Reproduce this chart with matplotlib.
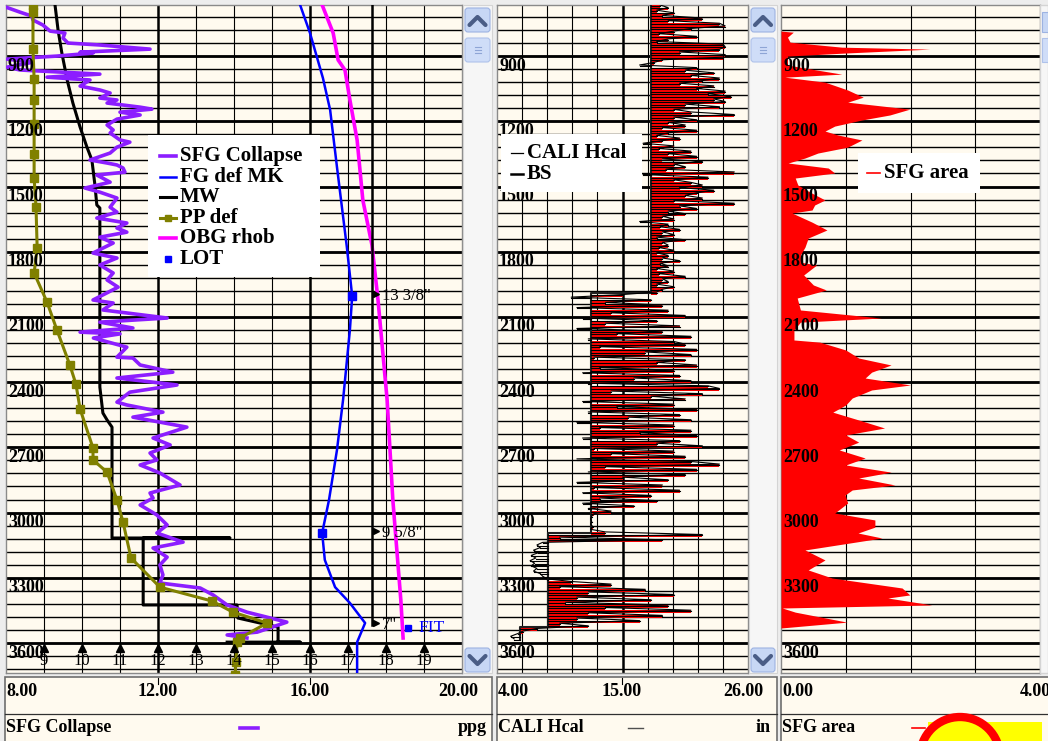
import numpy as np
import matplotlib.pyplot as plt
import matplotlib.transforms as mtransforms
from matplotlib.patches import Rectangle, Circle, FancyBboxPatch

W, H = 1048, 741
PLOT_TOP, PLOT_BOT = 5, 673          # pixel rows of the log tracks
DEPTH_TOP, DEPTH_BOT = 665, 3738     # metres shown in the window
CREAM = '#FFFAEF'
SERIF = 'Liberation Serif'
PURPLE = '#8C1EFF'
OLIVE = '#808000'

# ---------------- track 1 : pressure gradients (ppg) ----------------
sfg_depth = [675, 698, 716, 734, 757, 785, 794, 817, 840, 849, 868, 882, 886, 900, 914,
             928, 951, 964, 983, 997, 1010, 1038, 1056, 1070, 1093, 1102, 1116, 1135, 1144,
             1158, 1171, 1190, 1217, 1240, 1254, 1286, 1296, 1319, 1346, 1378, 1392, 1401,
             1415, 1434, 1447, 1480, 1507, 1526, 1553, 1595, 1618, 1645, 1668, 1691, 1710,
             1733, 1760, 1806, 1829, 1861, 1898, 1930, 1963, 2022, 2036, 2068, 2105, 2124,
             2151, 2170, 2178, 2197, 2239, 2285, 2289, 2321, 2354, 2381, 2413, 2446, 2492,
             2505, 2538, 2561, 2607, 2657, 2689, 2726, 2758, 2781, 2818, 2873, 2910, 2933,
             2965, 3011, 3057, 3094, 3136, 3163, 3205, 3241, 3287, 3324, 3347, 3379, 3425,
             3458, 3504, 3550, 3563, 3577]
sfg_ppg = [8.0, 8.37, 8.68, 8.71, 8.97, 9.16, 9.55, 9.5, 9.63, 10.47, 11.79, 9.95, 10.29,
           9.34, 8.03, 8.71, 8.03, 8.37, 10.47, 9.08, 10.21, 9.95, 10.47, 10.74, 10.47, 10.92,
           10.66, 11.53, 11.84, 11.0, 11.53, 10.92, 10.66, 10.82, 10.74, 11.0, 11.26, 10.92,
           10.74, 10.21, 10.66, 10.92, 11.08, 11.13, 10.39, 10.74, 10.08, 10.47, 10.92, 10.74,
           10.92, 10.39, 11.18, 10.92, 11.18, 10.47, 10.82, 10.29, 10.92, 10.47, 10.82, 10.66,
           10.95, 10.29, 10.82, 10.55, 12.24, 10.47, 11.34, 9.95, 11.0, 10.3, 11.18, 10.92,
           11.34, 11.53, 12.39, 10.92, 12.5, 11.26, 10.92, 11.18, 12.13, 11.34, 12.76, 11.87,
           12.32, 11.79, 11.97, 11.53, 12.05, 12.58, 11.79, 11.87, 11.53, 11.97, 12.24, 11.97,
           12.66, 11.87, 12.24, 12.05, 12.13, 12.05, 13.11, 13.45, 13.82, 14.34, 15.39, 14.61,
           13.82, 14.34]

mw_depth = [665, 780, 886, 1010, 1116, 1227, 1319, 1378, 1493, 1585, 1599, 2013, 2423,
            2542, 2574, 2607, 3117, 3117, 3117, 3425, 3425, 3485, 3527, 3596, 3596, 3596]
mw_ppg = [9.29, 9.37, 9.47, 9.61, 9.76, 9.95, 10.13, 10.26, 10.34, 10.39, 10.47, 10.47,
          10.47, 10.55, 10.66, 10.79, 10.79, 13.89, 11.61, 11.61, 14.08, 14.10, 15.16, 15.16,
          15.74, 13.82]

pp_depth = [665, 698, 868, 1006, 1102, 1213, 1351, 1461, 1595, 1783, 1898, 2032, 2160,
            2321, 2409, 2524, 2703, 2758, 2814, 2942, 3044, 3209, 3343, 3407, 3458, 3508,
            3577, 3596, 3688, 3747]
pp_ppg = [8.71, 8.71, 8.71, 8.74, 8.74, 8.74, 8.74, 8.74, 8.79, 8.82, 8.74, 9.08, 9.34,
          9.68, 9.84, 9.95, 10.29, 10.29, 10.66, 10.92, 11.08, 11.29, 12.05, 13.42, 13.97,
          14.87, 14.16, 14.08, 14.05, 14.03]

fg_depth = [665, 794, 1001, 1148, 1411, 1779, 2004, 2160, 2482, 2712, 2942, 3094, 3218,
            3343, 3416, 3508, 3596, 3747]
fg_ppg = [15.74, 16.0, 16.34, 16.53, 16.71, 16.97, 17.11, 17.05, 16.87, 16.71, 16.5, 16.32,
          16.39, 16.66, 17.05, 17.45, 17.24, 17.24]

obg_depth = [665, 794, 918, 964, 1102, 1286, 1562, 1769, 2022, 2482, 2942, 3402, 3577]
obg_ppg = [16.32, 16.61, 16.74, 16.92, 17.05, 17.24, 17.39, 17.63, 17.79, 18.03, 18.18,
           18.39, 18.45]

lot_depth = [2004, 3094]
lot_ppg = [17.11, 16.32]
fit_depth = [3531]
fit_ppg = [18.58]

casing_names = ['13 3/8"', '9 5/8"', '7"']
casing_shoe = [2004, 3094, 3517]
casing_ppg = 17.63

ppg_marks = list(range(9, 20))

# ---------------- track 2 : caliper (in) ----------------
cali_top, cali_step = 665, 12
cali_in = [
    18.3, 19.0, 18.0, 19.5, 18.5, 22.0, 19.0, 23.5, 24.0, 21.0,
    19.5, 18.2, 21.5, 19.0, 18.0, 23.8, 24.0, 23.5, 20.0, 24.0,
    23.8, 18.5, 17.8, 16.5, 21.5, 20.5, 23.0, 21.0, 23.5, 22.0,
    20.0, 23.0, 21.5, 24.0, 22.5, 24.5, 23.0, 24.0, 20.5, 23.5,
    19.5, 21.0, 24.8, 19.5, 21.5, 19.0, 20.5, 18.5, 21.5, 19.0,
    18.0, 20.0, 18.5, 16.8, 19.5, 18.2, 21.0, 19.0, 21.5, 18.5,
    22.0, 19.5, 20.5, 18.8, 24.8, 16.8, 22.5, 19.5, 21.0, 22.0,
    20.0, 23.0, 21.5, 20.5, 22.0, 19.5, 24.8, 20.0, 21.5, 19.0,
    20.5, 18.5, 19.5, 16.5, 19.0, 18.3, 20.0, 18.5, 19.5, 18.0,
    20.5, 18.5, 19.0, 18.2, 19.5, 18.0, 19.0, 18.5, 20.0, 18.3,
    19.0, 18.0, 19.5, 18.2, 20.5, 18.5, 19.0, 18.0, 19.5, 18.5, 18.0,
    15.0, 10.5, 17.5, 13.5, 18.5, 11.0, 19.0, 14.0, 20.5, 11.5,
    18.0, 13.5, 20.0, 11.0, 18.5, 14.5, 21.0, 12.0, 19.5, 20.5,
    13.0, 21.5, 17.0, 21.0, 12.5, 20.5, 18.0, 21.5, 13.0, 19.5,
    11.5, 20.0, 16.0, 21.0, 12.0, 22.5, 23.5, 14.0, 22.0, 17.5,
    20.5, 11.5, 19.5, 14.5, 21.5, 12.0, 20.0, 15.5, 21.0, 11.0,
    19.5, 13.0, 21.0, 16.5, 21.5, 11.5, 20.0, 18.0, 22.0, 12.5,
    19.5, 14.0, 20.5, 11.0, 21.0, 23.5, 13.5, 21.5, 12.0, 20.5,
    15.0, 19.0, 11.0, 18.5, 12.5, 20.0, 11.5, 17.5, 13.0, 18.0,
    11.5, 16.0, 12.0, 14.0, 12.5, 12.3, 12.2, 12.3, 12.2, 12.4, 12.2, 13.5,
    22.0, 9.5, 18.5, 8.0, 7.5, 7.8, 7.2, 7.6, 7.0, 7.4,
    6.9, 7.3, 7.0, 7.5, 7.2, 7.8, 8.0, 8.4, 10.5, 14.0,
    9.5, 17.0, 12.0, 19.5, 11.0, 17.5, 10.0, 19.0, 13.5, 21.0,
    12.0, 18.5, 11.0, 16.5, 9.5, 12.0, 7.5, 6.3, 5.8, 5.2, 5.5]
bit_tops = [665, 1990, 3094, 3525]
bit_sizes = [17.5, 12.25, 8.5, 6.0]
bit_base = 3581

# ---------------- track 3 : SFG area ----------------
area_depth = [665, 785, 790, 813, 836, 859, 868, 886, 900, 941, 964, 983, 997, 1020, 1056,
              1089, 1112, 1144, 1171, 1194, 1222, 1245, 1263, 1286, 1319, 1346, 1369, 1392,
              1415, 1438, 1461, 1493, 1526, 1562, 1585, 1608, 1622, 1664, 1700, 1737, 1779,
              1815, 1848, 1861, 1907, 1953, 1976, 2013, 2068, 2105, 2124, 2160, 2206, 2216,
              2252, 2289, 2321, 2354, 2381, 2413, 2436, 2473, 2505, 2538, 2574, 2611, 2643,
              2676, 2712, 2749, 2781, 2814, 2841, 2873, 2896, 2919, 2956, 3002, 3034, 3067,
              3094, 3117, 3172, 3218, 3264, 3301, 3347, 3379, 3393, 3425, 3439, 3458, 3504,
              3531, 3738]
area_val = [0, 0, 0.19, 0.10, 0.14, 0.94, 2.30, 0.99, 0.10, 0.10, 0.55, 0.94, 0.06, 0.68,
            1.03, 1.27, 1.03, 1.99, 1.68, 1.25, 0.83, 0.68, 0.88, 1.25, 1.03, 0.57, 0.37,
            0.11, 0.73, 0.83, 0.22, 0.26, 0.45, 0.68, 0.52, 0.48, 0.17, 0.48, 0.71, 0.42,
            0.37, 0.30, 0.30, 0.55, 0.35, 0.50, 0.70, 0.25, 0.30, 1.55, 0.30, 0.20, 0.20,
            0.60, 1.00, 1.20, 1.70, 1.40, 1.30, 2.00, 1.40, 1.10, 1.00, 0.80, 1.20, 1.60,
            1.00, 1.20, 0.90, 1.30, 1.00, 1.70, 1.20, 1.76, 1.10, 0.99, 1.03, 0.83, 1.45,
            1.45, 1.19, 1.56, 0.37, 0.68, 0.42, 0.79, 1.87, 1.99, 1.65, 2.33, 0.02, 0.22,
            1.02, 0.0, 0.0]

depth_major = list(range(600, 3900, 300))
depth_minor = list(range(660, 3740, 60))


fig = plt.figure(figsize=(W / 100, H / 100), dpi=100, facecolor='#EDEDED')
over = fig.add_axes([0, 0, 1, 1], zorder=10)
over.set_xlim(0, W)
over.set_ylim(H, 0)
over.axis('off')
over.patch.set_alpha(0)


def track(x0, x1, xlim, vminor, vmajor):
    ax = fig.add_axes([x0 / W, 1 - PLOT_BOT / H, (x1 - x0) / W, (PLOT_BOT - PLOT_TOP) / H],
                      zorder=1)
    ax.set_xlim(*xlim)
    ax.set_ylim(DEPTH_BOT, DEPTH_TOP)
    ax.set_facecolor(CREAM)
    ax.set_xticks([])
    ax.set_yticks([])
    for s in ax.spines.values():
        s.set_color('#8A8A8A')
        s.set_linewidth(1.0)
    for d in depth_minor:
        ax.axhline(d, color='black', lw=1.0, zorder=1)
    for d in depth_major:
        ax.axhline(d, color='black', lw=2.0, zorder=1)
    for v in vminor:
        ax.axvline(v, color='black', lw=0.8, zorder=1)
    for v in vmajor:
        ax.axvline(v, color='black', lw=1.8, zorder=1)
    tr = mtransforms.blended_transform_factory(ax.transAxes, ax.transData)
    for d in depth_major:
        ax.text(2.0 / (x1 - x0), d + 46, str(d), transform=tr, fontfamily=SERIF,
                fontweight='bold', fontsize=13, va='center', ha='left', zorder=8,
                clip_on=True)
    return ax


# track 1
ax1 = track(6, 462, (8, 20), [9, 10, 11, 13, 14, 15, 17, 18, 19], [12, 16])
ax1.plot(obg_ppg, obg_depth, color='#FF00FF', lw=2.6, zorder=3)
ax1.plot(fg_ppg, fg_depth, color='#0000FF', lw=1.8, zorder=3)
ax1.plot([casing_ppg, casing_ppg], [DEPTH_TOP, casing_shoe[-1]], color='black', lw=1.8, zorder=3)
for name, d in zip(casing_names, casing_shoe):
    ax1.plot([casing_ppg + 0.1], [d - 8], marker='>', ms=5, color='black', zorder=4)
    ax1.text(casing_ppg + 0.27, d, name, fontfamily=SERIF, fontsize=12, va='center',
             ha='left', zorder=4)
ax1.plot(lot_ppg, lot_depth, ls='none', marker='s', ms=5.5, color='#0000FF', zorder=5)
ax1.plot(fit_ppg, fit_depth, ls='none', marker='s', ms=5, color='#0000FF', zorder=5)
ax1.text(fit_ppg[0] + 0.27, fit_depth[0], 'FIT', color='#0000FF', fontfamily=SERIF,
         fontsize=12.5, va='center', ha='left', zorder=5)
ax1.plot(mw_ppg, mw_depth, color='black', lw=2.2, zorder=4)
ax1.plot(sfg_ppg, sfg_depth, color=PURPLE, lw=2.6, zorder=5)
ax1.plot(pp_ppg, pp_depth, color=OLIVE, lw=2.2, marker='s', ms=5.5, zorder=6)
ax1.plot(ppg_marks, [3621] * len(ppg_marks), ls='none', marker='^', ms=6, color='black',
         zorder=6)
for v in ppg_marks:
    ax1.text(v, 3684, str(v), fontfamily=SERIF, fontsize=12, ha='center', va='center',
             zorder=6)

# track 2
ax2 = track(497, 748, (4, 26), [4 + 2.2 * k for k in (1, 2, 3, 4, 6, 7, 8, 9)], [15])
cali = np.array(cali_in)
cali_depth = cali_top + cali_step * np.arange(len(cali))
bit_at = np.array(bit_sizes)[np.searchsorted(bit_tops, cali_depth, side='right') - 1]
ax2.fill_betweenx(cali_depth, bit_at, np.maximum(cali, bit_at), step='post',
                  color='#FF0000', lw=0, zorder=3)
bs_depth = [d for t in bit_tops[1:] for d in (t, t)]
bs_depth = [bit_tops[0]] + bs_depth + [bit_base]
bs_size = [s for s in bit_sizes for _ in (0, 1)]
ax2.plot(bs_size, bs_depth, color='#202020', lw=1.5, zorder=4)
# each caliper reading as a horizontal excursion from the bit size
for d, c, b in zip(cali_depth, cali, bit_at):
    ax2.plot([b, c], [d + 3, d + 3], color='black', lw=0.8, zorder=5)
ax2.plot(cali, cali_depth, color='black', lw=0.8, zorder=5)

# track 3
ax3 = track(781, 1040, (0, 4), [1, 2, 3], [])
ax3.fill_betweenx(area_depth, 0, area_val, color='#FF0000', lw=0, zorder=3)

# ---------------- legends ----------------
over.add_patch(Rectangle((148, 135), 172, 142, fc='white', ec='none'))
leg1 = [('SFG Collapse', PURPLE, 2.6, None), ('FG def MK', '#0000FF', 1.8, None),
        ('MW', 'black', 2.2, None), ('PP def', OLIVE, 2.2, 's'),
        ('OBG rhob', '#FF00FF', 2.6, None), ('LOT', '#0000FF', 0, 's')]
for k, (lab, col, lw, mk) in enumerate(leg1):
    y = 156 + 20.6 * k
    if lw:
        over.plot([160, 176], [y, y], color=col, lw=lw)
    if mk:
        over.plot([168], [y], marker=mk, ms=5, color=col)
    over.text(180, y, lab, fontfamily=SERIF, fontweight='bold', fontsize=15,
              va='center', ha='left')

over.add_patch(Rectangle((501, 134), 141, 58, fc='white', ec='none'))
for k, (lab, lw) in enumerate([('CALI Hcal', 0.9), ('BS', 1.8)]):
    y = 153 + 21 * k
    over.plot([511, 523], [y, y], color='black', lw=lw)
    over.text(527, y, lab, fontfamily=SERIF, fontweight='bold', fontsize=15,
              va='center', ha='left')

over.add_patch(Rectangle((858, 153), 122, 40, fc='white', ec='none'))
over.plot([867, 880], [173, 173], color='#FF0000', lw=1.2)
over.text(884, 173, 'SFG area', fontfamily=SERIF, fontweight='bold', fontsize=15,
          va='center', ha='left')


# ---------------- scroll bars ----------------
def scrollbar(x0, x1, down=True):
    over.add_patch(Rectangle((x0, PLOT_TOP), x1 - x0, PLOT_BOT - PLOT_TOP, fc='#F6F6F6',
                             ec='#D4D4D4', lw=0.8))
    bw = x1 - x0 - 4
    for yb in ([8, 648] if down else [8]):
        over.add_patch(FancyBboxPatch((x0 + 2, yb), bw, 24, boxstyle='round,pad=0,rounding_size=3',
                                      fc='#C7D7F5', ec='#9DB3E2', lw=0.8))
    over.add_patch(FancyBboxPatch((x0 + 2, 38), bw, 24, boxstyle='round,pad=0,rounding_size=3',
                                  fc='#CFDDF8', ec='#AFC2EA', lw=0.8))
    cx = x0 + 2 + bw / 2
    over.plot([cx - 8, cx, cx + 8], [25, 17, 25], color='#4A5D86', lw=3, solid_capstyle='round')
    if down:
        over.plot([cx - 8, cx, cx + 8], [656, 664, 656], color='#4A5D86', lw=3,
                  solid_capstyle='round')
    for dy in (-3, 0, 3):
        over.plot([cx - 3, cx + 3], [50 + dy, 50 + dy], color='#8EA5D5', lw=0.8)


scrollbar(463, 492)
scrollbar(749, 777)
over.add_patch(Rectangle((1040, PLOT_TOP), 8, PLOT_BOT - PLOT_TOP, fc='#F6F6F6', ec='#D4D4D4'))
over.add_patch(Rectangle((1042, 12), 6, 20, fc='#C7D7F5', ec='#9DB3E2', lw=0.8))
over.add_patch(Rectangle((1042, 38), 6, 24, fc='#CFDDF8', ec='#AFC2EA', lw=0.8))


# ---------------- track headers ----------------
def header(x0, x1, scale, ticks, name, unit, unit_x, sample, sample_kw):
    over.add_patch(Rectangle((x0, 677), x1 - x0, 70, fc=CREAM, ec='#6E6E6E', lw=1.2))
    over.plot([x0, x1], [714, 714], color='#303030', lw=0.9)
    for tx in ticks:
        over.plot([tx, tx], [678, 684], color='black', lw=0.8)
    for txt, tx, ha in scale:
        over.text(tx, 692, txt, fontfamily=SERIF, fontweight='bold', fontsize=13,
                  ha=ha, va='center')
    over.text(x0 + 1, 728, name, fontfamily=SERIF, fontweight='bold', fontsize=13,
              ha='left', va='center')
    over.plot(sample, [728, 728], **sample_kw)
    if unit:
        over.text(unit_x, 728, unit, fontfamily=SERIF, fontweight='bold', fontsize=13,
                  ha='right', va='center')


header(5, 492, [('8.00', 6, 'left'), ('12.00', 158, 'center'), ('16.00', 310, 'center'),
                ('20.00', 478, 'right')], [158, 310], 'SFG Collapse', 'ppg', 487,
       [240, 258], dict(color=PURPLE, lw=2.6))
header(497, 777, [('4.00', 498, 'left'), ('15.00', 622, 'center'), ('26.00', 763, 'right')],
       [622], 'CALI Hcal', 'in', 771, [628, 643], dict(color='#505050', lw=1.0))
header(781, 1052, [('0.00', 782, 'left'), ('4.00', 1020, 'left')], [], 'SFG area', None, 0,
       [912, 925], dict(color='#FF0000', lw=1.2))

# cursor badge sitting over the last header
over.add_patch(Rectangle((928, 722), 114, 25, fc='#FFFF00', ec='none', zorder=12))
over.add_patch(Circle((960, 757), 40, fc='#FFFF00', ec='#FF0000', lw=6, zorder=13))

fig.savefig('out.png', dpi=100, facecolor=fig.get_facecolor())
